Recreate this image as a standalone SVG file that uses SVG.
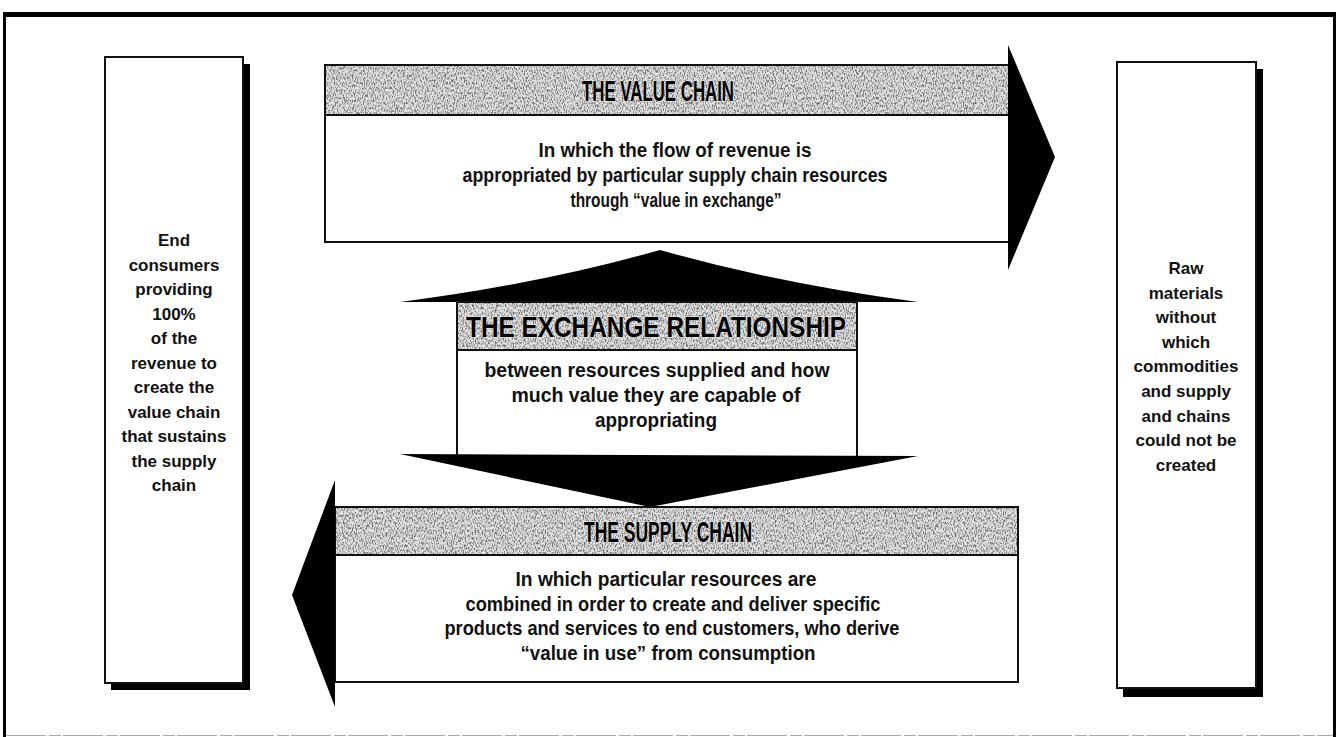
<svg xmlns="http://www.w3.org/2000/svg" width="1338" height="737" viewBox="0 0 1338 737">
<defs>
<style>
.box{fill:#fff;stroke:#111;stroke-width:2}
.shadow{fill:#000}
.band{fill:#e2e2e2;stroke:#111;stroke-width:2}
.head{fill:#000}
.side{font-family:"Liberation Sans",Arial,sans-serif;font-weight:bold;font-size:17px;fill:#111;text-anchor:middle}
.body{font-family:"Liberation Sans Narrow","Liberation Sans",Arial,sans-serif;font-weight:bold;font-size:20px;fill:#111;text-anchor:middle}
.title{font-family:"Liberation Sans Narrow","Liberation Sans",Arial,sans-serif;font-weight:bold;font-size:30px;fill:#000;text-anchor:middle;stroke:#eee;stroke-width:0.8;paint-order:stroke}
</style>
<filter id="grain" x="0" y="0" width="1" height="1">
<feTurbulence type="fractalNoise" baseFrequency="0.9 0.4" numOctaves="2" seed="7" result="n"/>
<feColorMatrix in="n" type="matrix" values="0 0 0 0 0.15  0 0 0 0 0.15  0 0 0 0 0.15  3.6 0 0 0 -1.6"/>
</filter>
</defs>

<g id="frame">
<rect x="3" y="12" width="1333" height="5" fill="#000"/>
<rect x="3" y="12" width="3" height="725" fill="#000"/>
<rect x="1333" y="12" width="3" height="725" fill="#000"/>
<line x1="6" y1="735.5" x2="1333" y2="735.5" stroke="#aaa" stroke-width="1" stroke-dasharray="40 3 12 2"/>
</g>

<g id="end-consumers">
<rect class="shadow" x="111" y="64" width="139" height="626"/>
<rect class="box" x="105" y="57" width="138" height="626"/>
<text class="side"><tspan x="174" y="246">End</tspan><tspan x="174" y="270.5">consumers</tspan><tspan x="174" y="295">providing</tspan><tspan x="174" y="319.5">100%</tspan><tspan x="174" y="344">of the</tspan><tspan x="174" y="368.5">revenue to</tspan><tspan x="174" y="393">create the</tspan><tspan x="174" y="417.5">value chain</tspan><tspan x="174" y="442">that sustains</tspan><tspan x="174" y="466.5">the supply</tspan><tspan x="174" y="491">chain</tspan></text>
</g>

<g id="raw-materials">
<rect class="shadow" x="1123" y="69" width="140" height="628"/>
<rect class="box" x="1117" y="62" width="139" height="626"/>
<text class="side"><tspan x="1186" y="274">Raw</tspan><tspan x="1186" y="298.6">materials</tspan><tspan x="1186" y="323.2">without</tspan><tspan x="1186" y="347.8">which</tspan><tspan x="1186" y="372.4">commodities</tspan><tspan x="1186" y="397">and supply</tspan><tspan x="1186" y="421.6">and chains</tspan><tspan x="1186" y="446.2">could not be</tspan><tspan x="1186" y="470.8">created</tspan></text>
</g>

<g id="value-chain">
<rect class="box" x="325" y="65" width="685" height="177"/>
<rect class="band" x="325" y="65" width="685" height="50"/>
<rect x="326" y="66" width="683" height="48" filter="url(#grain)"/>
<polygon class="head" points="1008,45 1055,157 1008,270"/>
<text class="title" x="658" y="101" textLength="152" lengthAdjust="spacingAndGlyphs">THE VALUE CHAIN</text>
<text class="body" x="675" y="157" textLength="273" lengthAdjust="spacingAndGlyphs">In which the flow of revenue is</text>
<text class="body" x="675" y="182" textLength="425" lengthAdjust="spacingAndGlyphs">appropriated by particular supply chain resources</text>
<text class="body" x="676" y="207" textLength="211" lengthAdjust="spacingAndGlyphs">through “value in exchange”</text>
</g>

<g id="exchange-relationship">
<path class="head" d="M400,302 Q540,284 660,250 Q780,284 918,302 Z"/>
<rect class="box" x="457" y="302" width="400" height="155"/>
<rect class="band" x="457" y="302" width="400" height="48"/>
<rect x="458" y="303" width="398" height="46" filter="url(#grain)"/>
<text class="title" x="656" y="337" textLength="380" lengthAdjust="spacingAndGlyphs">THE EXCHANGE RELATIONSHIP</text>
<text class="body" x="657" y="377" textLength="345" lengthAdjust="spacingAndGlyphs">between resources supplied and how</text>
<text class="body" x="656" y="402" textLength="289" lengthAdjust="spacingAndGlyphs">much value they are capable of</text>
<text class="body" x="656" y="427" textLength="122" lengthAdjust="spacingAndGlyphs">appropriating</text>
<polygon class="head" points="400,454 918,456 650,507"/>
</g>

<g id="supply-chain">
<rect class="box" x="335" y="507" width="683" height="175"/>
<rect class="band" x="335" y="507" width="683" height="48"/>
<rect x="336" y="508" width="681" height="46" filter="url(#grain)"/>
<polygon class="head" points="335,480 292,595 335,707"/>
<text class="title" x="668" y="542" textLength="168" lengthAdjust="spacingAndGlyphs">THE SUPPLY CHAIN</text>
<text class="body" x="666" y="586" textLength="301" lengthAdjust="spacingAndGlyphs">In which particular resources are</text>
<text class="body" x="673" y="611" textLength="415" lengthAdjust="spacingAndGlyphs">combined in order to create and deliver specific</text>
<text class="body" x="672" y="635" textLength="455" lengthAdjust="spacingAndGlyphs">products and services to end customers, who derive</text>
<text class="body" x="668" y="660" textLength="295" lengthAdjust="spacingAndGlyphs">“value in use” from consumption</text>
</g>
</svg>
